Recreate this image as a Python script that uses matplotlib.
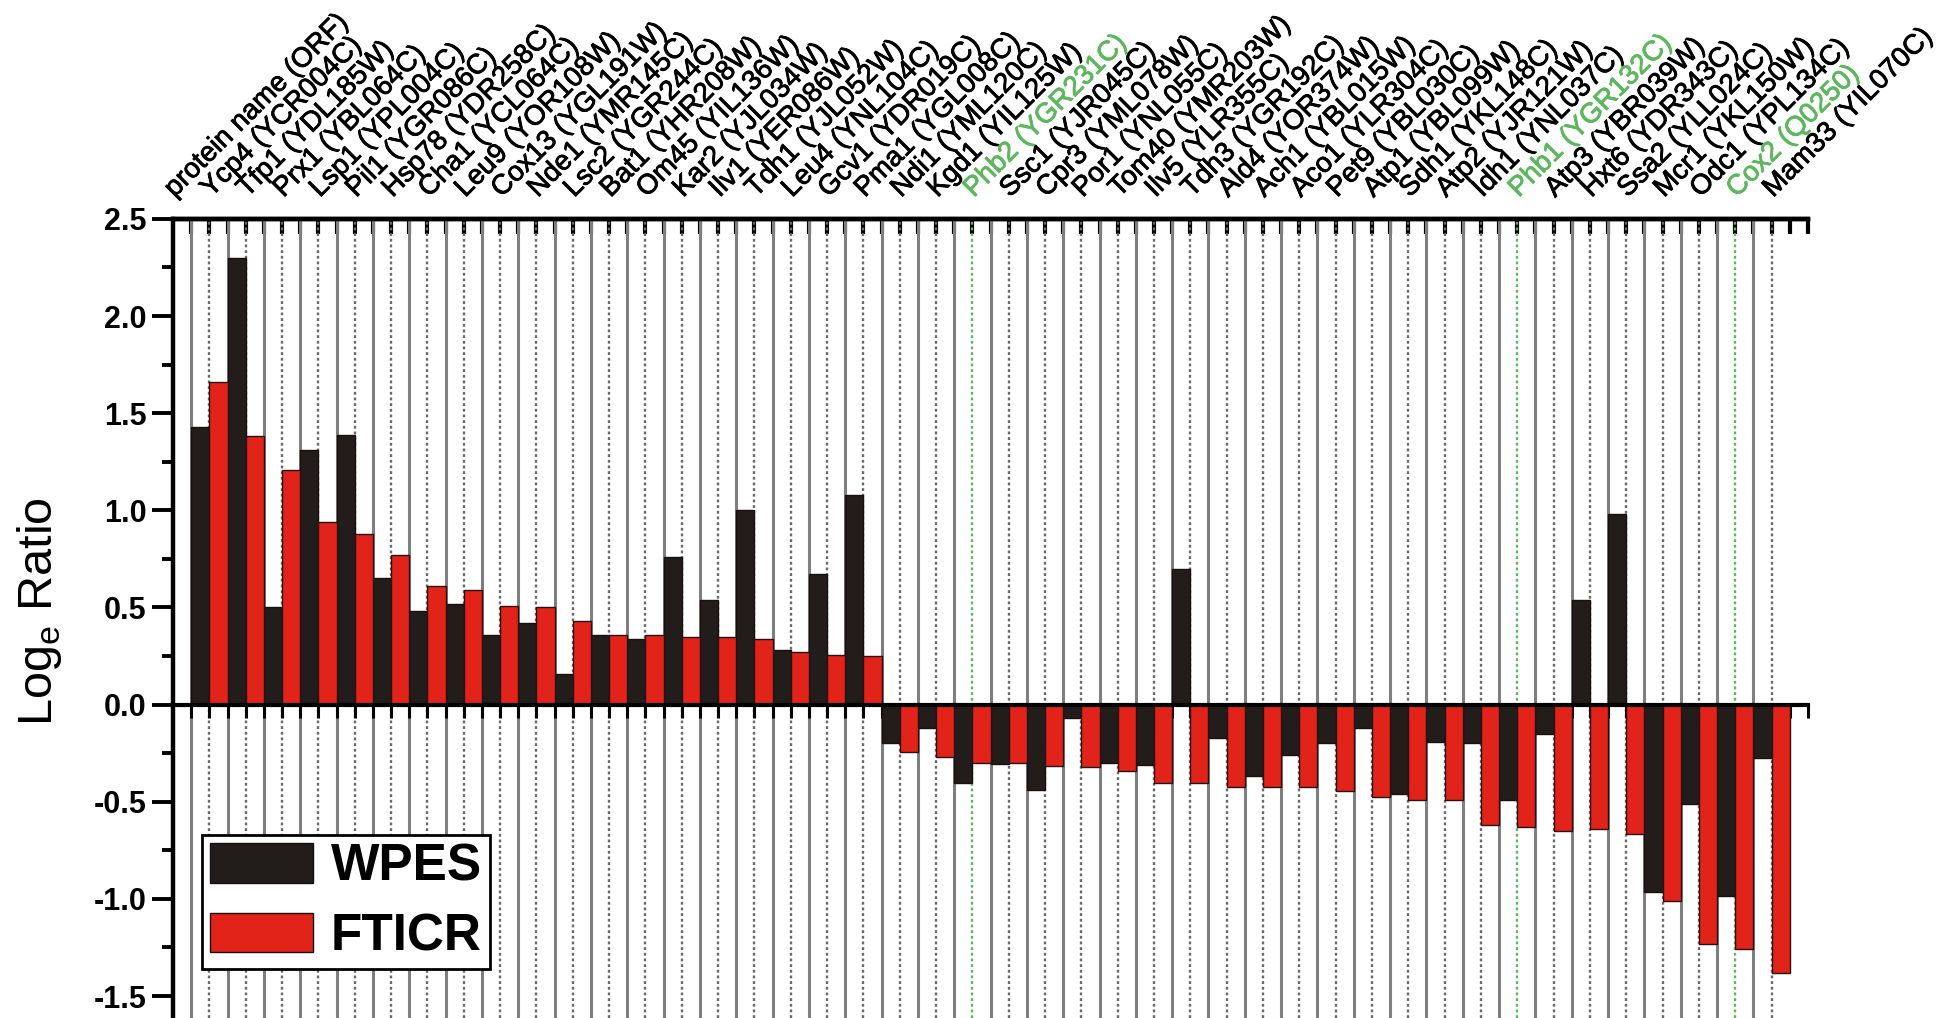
import numpy as np
import matplotlib
matplotlib.use("Agg")
import matplotlib.pyplot as plt
import matplotlib.patheffects as pe
from matplotlib.patches import Patch
from matplotlib.ticker import MultipleLocator, FormatStrFormatter

plt.rcParams['font.family'] = ['Liberation Sans', 'DejaVu Sans']
plt.rcParams['axes.unicode_minus'] = False

header = "protein name (ORF)"
proteins = [
    "Ycp4 (YCR004C)", "Tfp1 (YDL185W)", "Prx1 (YBL064C)", "Lsp1 (YPL004C)",
    "Pil1 (YGR086C)", "Hsp78 (YDR258C)", "Cha1 (YCL064C)", "Leu9 (YOR108W)",
    "Cox13 (YGL191W)", "Nde1 (YMR145C)", "Lsc2 (YGR244C)", "Bat1 (YHR208W)",
    "Om45 (YIL136W)", "Kar2 (YJL034W)", "Ilv1 (YER086W)", "Tdh1 (YJL052W)",
    "Leu4 (YNL104C)", "Gcv1 (YDR019C)", "Pma1 (YGL008C)", "Ndi1 (YML120C)",
    "Kgd1 (YIL125W)", "Phb2 (YGR231C)", "Ssc1 (YJR045C)", "Cpr3 (YML078W)",
    "Por1 (YNL055C)", "Tom40 (YMR203W)", "Ilv5 (YLR355C)", "Tdh3 (YGR192C)",
    "Ald4 (YOR374W)", "Ach1 (YBL015W)", "Aco1 (YLR304C)", "Pet9 (YBL030C)",
    "Atp1 (YBL099W)", "Sdh1 (YKL148C)", "Atp2 (YJR121W)", "Idh1 (YNL037C)",
    "Phb1 (YGR132C)", "Atp3 (YBR039W)", "Hxt6 (YDR343C)", "Ssa2 (YLL024C)",
    "Mcr1 (YKL150W)", "Odc1 (YPL134C)", "Cox2 (Q0250)", "Mam33 (YIL070C)",
]
highlight = ["Phb2 (YGR231C)", "Phb1 (YGR132C)", "Cox2 (Q0250)"]

wpes = [1.43, 2.30, 0.50, 1.31, 1.39, 0.65, 0.48, 0.52, 0.36, 0.42,
        0.155, 0.36, 0.34, 0.76, 0.54, 1.00, 0.28, 0.67, 1.08, -0.20,
        -0.12, -0.405, -0.305, -0.44, -0.07, -0.30, -0.31, 0.70, -0.17, -0.37,
        -0.26, -0.20, -0.12, -0.46, -0.19, -0.20, -0.49, -0.15, 0.54, 0.98,
        -0.965, -0.51, -0.985, -0.275]
fticr = [1.66, 1.38, 1.21, 0.94, 0.88, 0.77, 0.61, 0.59, 0.51, 0.50,
         0.43, 0.36, 0.36, 0.35, 0.35, 0.34, 0.27, 0.255, 0.25, -0.245,
         -0.27, -0.30, -0.30, -0.315, -0.32, -0.34, -0.405, -0.405, -0.425, -0.425,
         -0.425, -0.445, -0.475, -0.49, -0.49, -0.62, -0.63, -0.65, -0.64, -0.665,
         -1.01, -1.23, -1.26, -1.38]

BLACK = '#221c1a'
RED = '#e2231a'
GREEN = '#5cb85c'

fig = plt.figure(figsize=(19.38, 10.18), dpi=100)
ax = fig.add_axes([0.0893, 0.0, 0.8436, 0.785])

x = np.arange(1, len(proteins) + 1)

# vertical guide lines: solid between proteins, dotted at each protein
for b in x - 0.5:
    ax.axvline(b, color='#7f7f7f', lw=2.2, zorder=1)
for xi, name in zip(x, proteins):
    col = GREEN if name in highlight else '#6a6a6a'
    ax.axvline(xi, color=col, lw=1.7, ls=(0, (1.2, 1.2)), zorder=1)

ax.bar(x - 0.25, wpes, width=0.5, color=BLACK, edgecolor='#1a1010', lw=1, zorder=3)
ax.bar(x + 0.25, fticr, width=0.5, color=RED, edgecolor='#2a1010', lw=1, zorder=3)

ax.set_xlim(0, len(proteins) + 1)
ax.set_ylim(-1.613, 2.5)

# spines
ax.spines['right'].set_visible(False)
ax.spines['left'].set_linewidth(3.2)
ax.spines['top'].set_linewidth(3.2)
ax.spines['bottom'].set_position(('data', 0))
ax.spines['bottom'].set_linewidth(3)
for s in ax.spines.values():
    s.set_zorder(5)

ticks_x = np.arange(0.5, len(proteins) + 1.01, 0.5)
ax.set_xticks(ticks_x)
ax.tick_params(axis='x', which='major', bottom=True, top=False, direction='out',
               length=9, width=2.2, labelbottom=False)
sec = ax.secondary_xaxis('top')
sec.set_xticks(ticks_x)
sec.tick_params(direction='in', length=11, width=3, labeltop=False)
sec.spines['top'].set_linewidth(3.2)

ax.yaxis.set_major_locator(MultipleLocator(0.5))
ax.yaxis.set_minor_locator(MultipleLocator(0.25))
ax.yaxis.set_major_formatter(FormatStrFormatter('%.1f'))
ax.tick_params(axis='y', which='major', direction='out', length=15, width=2.8,
               labelsize=22, pad=4)
ax.tick_params(axis='y', which='minor', direction='out', length=8, width=2.8)
for t in ax.get_yticklabels():
    t.set_fontweight('bold')

# rotated protein labels along the top (slight stroke to match the heavier print)
for i, name in enumerate([header] + proteins):
    col = GREEN if name in highlight else 'black'
    ax.annotate(name, xy=(i, 1), xycoords=('data', 'axes fraction'),
                xytext=(1, 15), textcoords='offset points', rotation=45,
                rotation_mode='anchor', ha='left', va='baseline',
                fontsize=20, color=col, annotation_clip=False,
                path_effects=[pe.withStroke(linewidth=0.6, foreground=col)])

fig.text(40 / 1938, 1 - 612 / 1018, r'Log$_{\mathregular{e}}$ Ratio', rotation=90,
         ha='center', va='center', fontsize=35)

handles = [Patch(facecolor=BLACK, edgecolor='#111111', label='WPES'),
           Patch(facecolor=RED, edgecolor='#111111', label='FTICR')]
leg = ax.legend(handles=handles, loc='lower left', bbox_to_anchor=(0.018, 0.061),
                borderaxespad=0, prop={'weight': 'bold', 'size': 37},
                handlelength=2.0, handleheight=0.8, handletextpad=0.35,
                labelspacing=0.4, borderpad=0.15, fancybox=False, framealpha=1,
                edgecolor='black')
leg.get_frame().set_linewidth(2)
leg.set_zorder(6)

fig.savefig('out.png', dpi=100)
